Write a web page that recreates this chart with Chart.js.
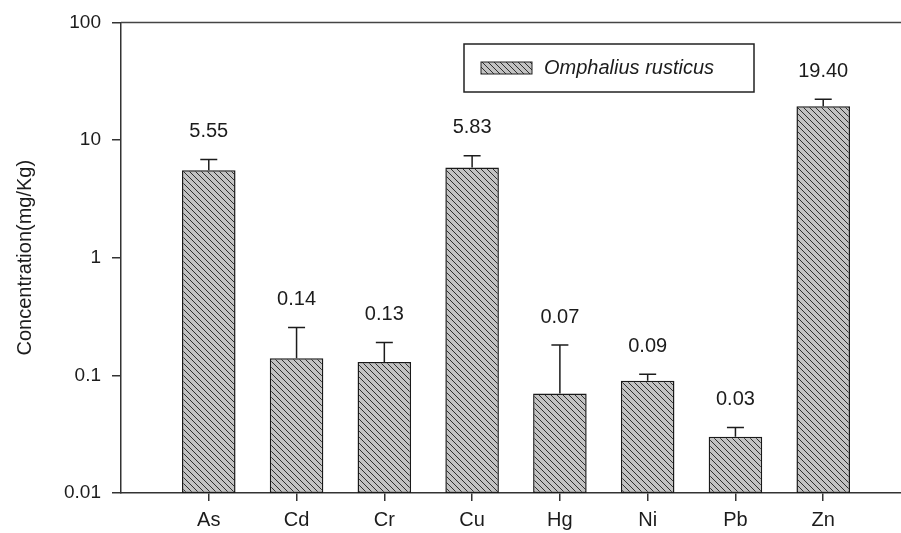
<!DOCTYPE html>
<html>
<head>
<meta charset="utf-8">
<script src="https://cdn.jsdelivr.net/npm/chart.js@4.4.1/dist/chart.umd.min.js"></script>
<style>
  html, body { margin: 0; padding: 0; background: #fff; overflow: hidden; }
  #wrap { width: 918px; height: 533px; }
</style>
</head>
<body>
<div id="wrap"><canvas id="chart" width="918" height="533"></canvas></div>
<script>
// Metal concentrations in Omphalius rusticus (mg/Kg), log scale
const categories = ['As', 'Cd', 'Cr', 'Cu', 'Hg', 'Ni', 'Pb', 'Zn'];
const concentrations = [5.55, 0.14, 0.13, 5.83, 0.07, 0.09, 0.03, 19.40];
const stdDev = [1.27, 0.115, 0.06, 1.53, 0.111, 0.012, 0.006, 2.8];
const yTicks = [0.01, 0.1, 1, 10, 100];
const seriesName = 'Omphalius rusticus';

const FONT = "'Liberation Sans', Arial, sans-serif";
const INK = '#1c1c1c';
const AXIS = '#333';

// one empty slot on each side so the first and last bars sit a full step from the edges
const paddedLabels = ['', ...categories, ''];
const paddedValues = [null, ...concentrations, null];
const paddedErr = [null, ...stdDev, null];

// grey fill with "\" diagonal hatching
function makeHatch() {
  const s = 6;
  const c = document.createElement('canvas');
  c.width = s; c.height = s;
  const g = c.getContext('2d');
  g.fillStyle = '#c2c2c2';
  g.fillRect(0, 0, s, s);
  g.strokeStyle = '#2e2e2e';
  g.lineWidth = 1;
  g.beginPath();
  g.moveTo(-1, -1); g.lineTo(s + 1, s + 1);
  g.moveTo(-1, s - 1); g.lineTo(1, s + 1);
  g.moveTo(s - 1, -1); g.lineTo(s + 1, 1);
  g.stroke();
  return g.createPattern(c, 'repeat');
}
const hatch = makeHatch();

const decorations = {
  id: 'decorations',
  afterDatasetsDraw(chart) {
    const {ctx, chartArea, scales: {y}} = chart;
    const meta = chart.getDatasetMeta(0);
    ctx.save();
    // top frame line
    ctx.strokeStyle = '#444';
    ctx.lineWidth = 1.5;
    ctx.beginPath();
    ctx.moveTo(chartArea.left, chartArea.top);
    ctx.lineTo(chartArea.right, chartArea.top);
    ctx.stroke();

    // upper error bars and value labels
    meta.data.forEach((bar, i) => {
      const v = paddedValues[i];
      if (v == null) return;
      const yTop = y.getPixelForValue(v + paddedErr[i]);
      ctx.strokeStyle = INK;
      ctx.lineWidth = 1.5;
      ctx.beginPath();
      ctx.moveTo(bar.x, bar.y);
      ctx.lineTo(bar.x, yTop);
      ctx.moveTo(bar.x - 8.5, yTop);
      ctx.lineTo(bar.x + 8.5, yTop);
      ctx.stroke();
      ctx.fillStyle = INK;
      ctx.font = '20px ' + FONT;
      ctx.textAlign = 'center';
      ctx.textBaseline = 'middle';
      ctx.fillText(v.toFixed(2), bar.x, yTop - 28);
    });

    // legend box
    const bx = 464, by = 44, bw = 290, bh = 48;
    ctx.fillStyle = '#fff';
    ctx.fillRect(bx, by, bw, bh);
    ctx.strokeStyle = '#222';
    ctx.lineWidth = 1.5;
    ctx.strokeRect(bx, by, bw, bh);
    ctx.fillStyle = hatch;
    ctx.fillRect(bx + 17, by + 18, 51, 12);
    ctx.lineWidth = 1;
    ctx.strokeRect(bx + 17, by + 18, 51, 12);
    ctx.fillStyle = INK;
    ctx.font = 'italic 20px ' + FONT;
    ctx.textAlign = 'left';
    ctx.textBaseline = 'middle';
    ctx.fillText(seriesName, bx + 80, by + 24);
    ctx.restore();
  }
};

new Chart(document.getElementById('chart'), {
  type: 'bar',
  data: {
    labels: paddedLabels,
    datasets: [{
      label: seriesName,
      data: paddedValues,
      backgroundColor: hatch,
      borderColor: '#1a1a1a',
      borderWidth: 1.5,
      borderSkipped: false,
      categoryPercentage: 1,
      barPercentage: 0.61
    }]
  },
  options: {
    responsive: false,
    animation: false,
    layout: { padding: { top: 16, right: 0, bottom: 0, left: 0 } },
    plugins: { legend: { display: false }, tooltip: { enabled: false } },
    scales: {
      x: {
        type: 'category',
        offset: false,
        afterFit(scale) { scale.height = 40; },
        grid: {
          offset: false,
          drawOnChartArea: false,
          drawTicks: true,
          tickLength: 8,
          lineWidth: 1.5,
          tickColor: ctx => (ctx.index === 0 || ctx.index === paddedLabels.length - 1) ? 'rgba(0,0,0,0)' : AXIS
        },
        border: { display: true, color: AXIS, width: 1.5 },
        ticks: { color: INK, font: { family: FONT, size: 20 }, padding: 7, maxRotation: 0, autoSkip: false }
      },
      y: {
        type: 'logarithmic',
        min: yTicks[0],
        max: yTicks[yTicks.length - 1],
        afterFit(scale) { scale.width = 121; },
        afterBuildTicks(scale) { scale.ticks = yTicks.map(v => ({ value: v })); },
        grid: { drawOnChartArea: false, drawTicks: true, tickLength: 9, lineWidth: 1.5, tickColor: AXIS },
        border: { display: true, color: AXIS, width: 1.5 },
        ticks: {
          color: INK,
          font: { family: FONT, size: 19 },
          padding: 11,
          callback: v => String(v)
        },
        title: {
          display: true,
          text: 'Concentration(mg/Kg)',
          color: INK,
          font: { family: FONT, size: 20 },
          padding: { top: 13, bottom: 0 }
        }
      }
    }
  },
  plugins: [decorations]
});
</script>
</body>
</html>
